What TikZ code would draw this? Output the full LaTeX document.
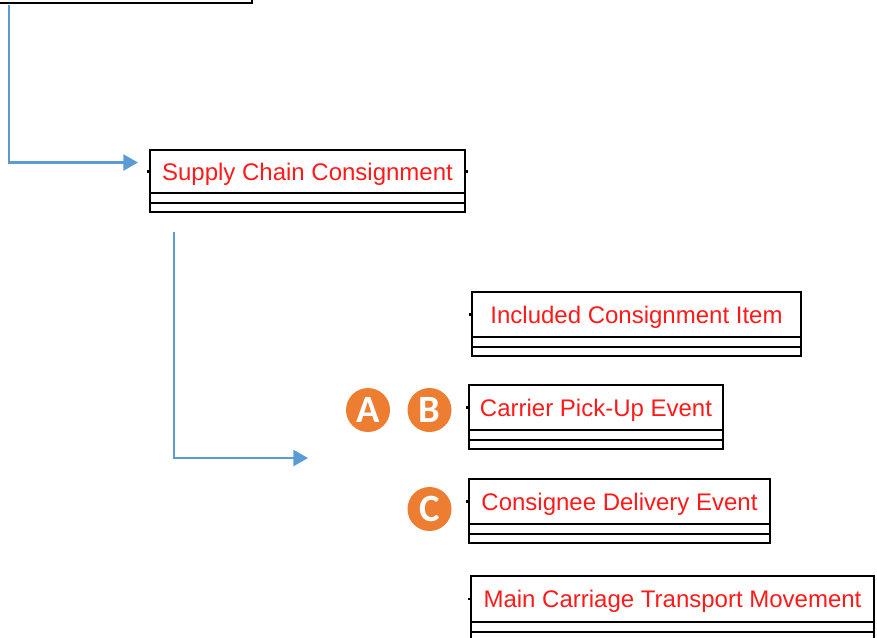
\documentclass[tikz,border=0pt]{standalone}
\usepackage{fontspec}
\setmainfont{Liberation Sans}
\newfontfamily\badgefont{Carlito}
\usetikzlibrary{arrows.meta, calc, positioning}
\definecolor{flowblue}{HTML}{5B9BD5}
\definecolor{badgeorange}{HTML}{ED7D31}
\definecolor{clsred}{HTML}{FF1A1A}
\tikzset{
	cls/.style={
		draw,
		line width=1.4pt,
		anchor=north west,
		inner sep=0pt,
		outer sep=0pt,
		minimum height=45*0.75pt,
		text depth=0pt,
		text=clsred,
		font=\fontsize{18}{20}\selectfont
	},
	flow/.style={
		draw=flowblue,
		line width=1.9pt,
		-{Triangle[length=11pt,width=12pt]}
	},
	badge/.style={
		circle,
		fill=badgeorange,
		minimum size=33pt,
		inner sep=0pt,
		text=white,
		font=\badgefont\bfseries\fontsize{29}{29}\selectfont
	},
	stub/.style={
		line width=1.6pt
	}
}
% the two empty compartments under a class title
\newcommand{\compart}[1]{
	\draw[line width=1.4pt] (#1.south west) rectangle ($(#1.south east)+(0,10)$);
	\draw[line width=1.4pt] ($(#1.south west)+(0,10)$) rectangle ($(#1.south east)+(0,19)$);
}

\begin{document}
\begin{tikzpicture}[x=0.75pt, y=-0.75pt]
		\useasboundingbox (0,0) rectangle (877,637);
		\node[draw, line width=1.4pt, outer sep=0pt, anchor=south east, minimum width=320*0.75pt, minimum height=40*0.75pt] (top) at (252,3) {};
		
		\node[cls, minimum height=43*0.75pt, minimum width=315*0.75pt] (scc) at (150,150) {Supply Chain Consignment};
		\compart{scc}
		\draw[stub] (scc.west) -- ++(-3,0);
		\draw[stub] (scc.east) -- ++(3,0);
		
		\node[cls, minimum width=329*0.75pt] (inc) at (472,292) {Included Consignment Item};
		\compart{inc}
		\node[cls, minimum width=254*0.75pt] (pick) at (469,385) {Carrier Pick-Up Event};
		\compart{pick}
		\node[cls, minimum width=301*0.75pt] (deliv) at (469,479) {Consignee Delivery Event};
		\compart{deliv}
		\node[cls, minimum height=46*0.75pt, minimum width=403*0.75pt] (main) at (471,576) {Main Carriage Transport Movement};
		\compart{main}
		\foreach \c in {inc, pick, deliv, main}
			\draw[stub] (\c.west) -- ++(-3,0);
		
		\coordinate (sccout) at ($(scc.south west)+(24,39)$);
		\coordinate (drop) at (308,458);
		\draw[flow] ($(top.south west)+(77,2)$) |- ($(scc.west)+(-12,-9)$);
		\draw[flow] (sccout) |- (drop);
		
		\node[badge] (a) at (368,410) {A};
		\node[badge] (b) at (429.5,410) {B};
		\node[badge] (c) at (429.5,509) {C};
\end{tikzpicture}
\end{document}
